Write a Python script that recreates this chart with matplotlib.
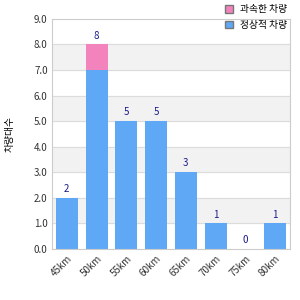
import numpy as np
import matplotlib.pyplot as plt

plt.rcParams['font.family'] = ['Noto Sans CJK KR', 'DejaVu Sans']

categories = ['45km', '50km', '55km', '60km', '65km', '70km', '75km', '80km']
normal = [2, 7, 5, 5, 3, 1, 0, 1]
over = [0, 1, 0, 0, 0, 0, 0, 0]
legend_labels = ['과속한 차량', '정상적 차량']
ylabel = '차량대수'

blue = '#5fa8f6'
pink = '#f383bd'

fig = plt.figure(figsize=(3, 3), dpi=100)
ax = fig.add_axes([0.173, 0.17, 0.794, 0.767])

x = np.arange(len(categories))
totals = np.array(normal) + np.array(over)

# alternating bands
for lo in range(1, 9, 2):
    ax.axhspan(lo, lo + 1, color='#f2f2f2', zorder=0)
for y in range(1, 9):
    ax.axhline(y, color='#dcdcdc', lw=0.8, zorder=0.5)

b1 = ax.bar(x, normal, width=0.74, color=blue, zorder=2)
b2 = ax.bar(x, over, bottom=normal, width=0.74, color=pink, zorder=2)

for xi, t in zip(x, totals):
    ax.text(xi, t + 0.15, str(t), ha='center', va='bottom', fontsize=7, color='#1a1a8a')

ax.set_xlim(-0.5, len(categories) - 0.5)
ax.set_ylim(0, 9)
ax.set_yticks(np.arange(0, 10))
ax.set_yticklabels([f'{v:.1f}' for v in range(10)], fontsize=7, color='#333333')
ax.set_xticks(x)
ax.set_xticklabels(categories, rotation=45, ha='right', rotation_mode='anchor',
                   fontsize=7, color='#333333')
ax.tick_params(length=0, pad=3)
for s in ax.spines.values():
    s.set_color('#cccccc')
    s.set_linewidth(0.8)

ax.set_ylabel(ylabel, fontsize=7, labelpad=14)

leg = fig.legend([b2, b1], legend_labels, loc='upper right', bbox_to_anchor=(0.985, 1.015),
                 frameon=False, fontsize=7, handlelength=0.8, handleheight=0.8,
                 handletextpad=0.7, labelspacing=0.55)
for h in leg.legend_handles:
    h.set_edgecolor('#777777')
    h.set_linewidth(1)

fig.savefig('out.png', dpi=100)
